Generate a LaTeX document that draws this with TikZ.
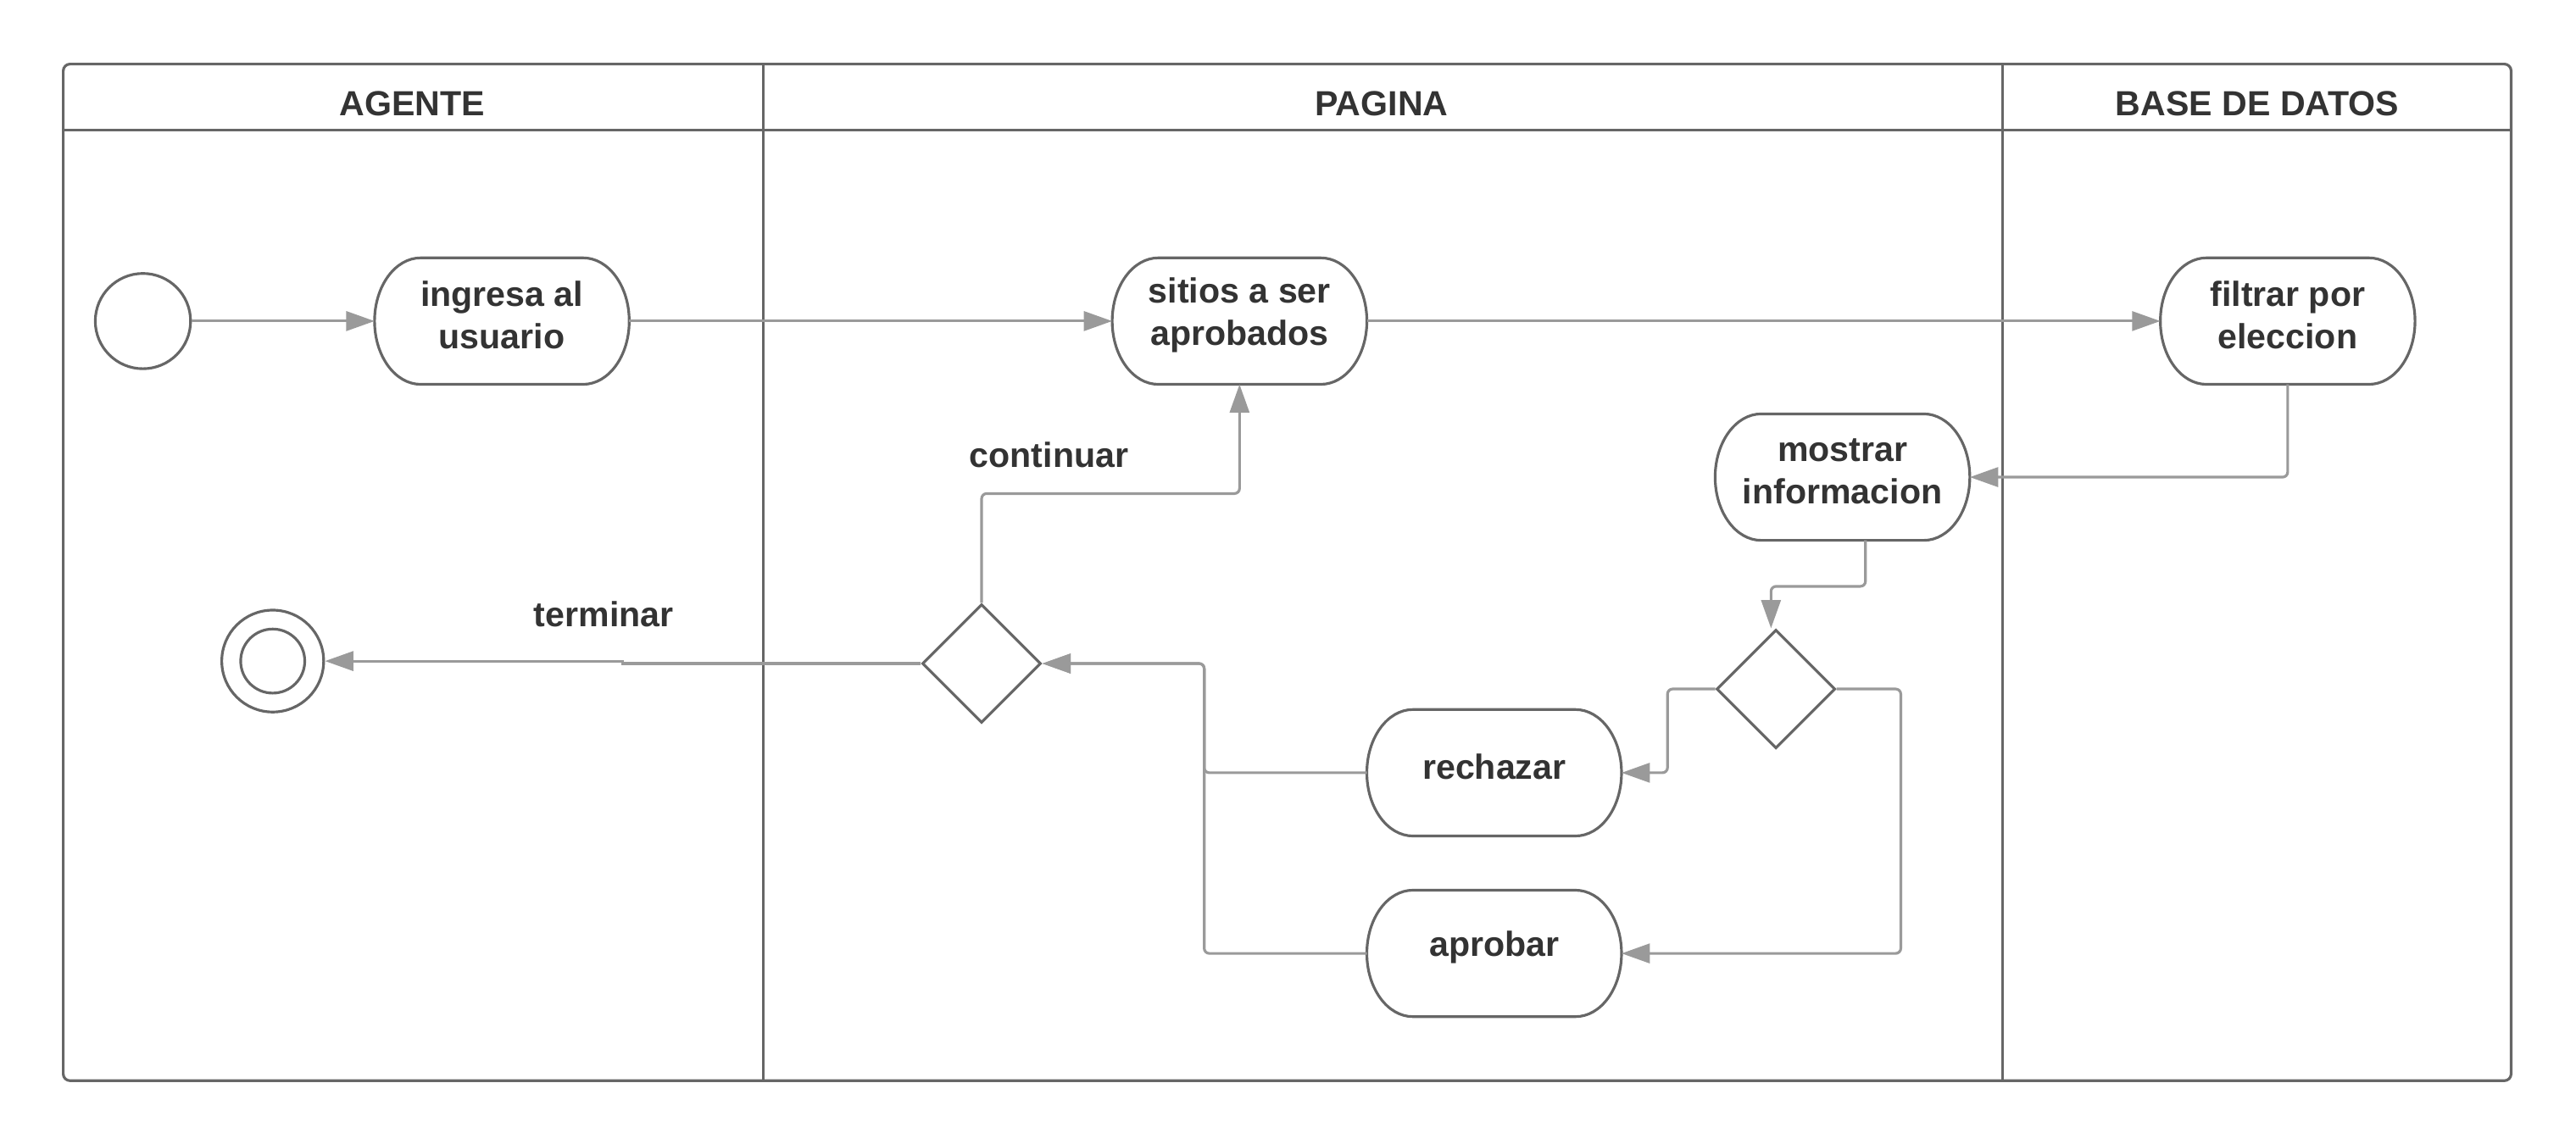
\documentclass[tikz,border=0pt]{standalone}
\usepackage{fontspec}
\setmainfont{Liberation Sans}
\usetikzlibrary{arrows.meta,shapes.geometric}
\definecolor{framec}{HTML}{666666}
\definecolor{textc}{HTML}{333333}
\definecolor{linkc}{HTML}{9A9A9A}
\newcommand{\actshape}[1]{\draw[framec,line width=0.9pt] ([xshift=0.543cm]#1.north west) -- ([xshift=-0.543cm]#1.north east) arc[start angle=90,end angle=-90,x radius=0.543cm,y radius=0.746cm] -- ([xshift=0.543cm]#1.south west) arc[start angle=270,end angle=90,x radius=0.543cm,y radius=0.746cm] -- cycle;}
\begin{document}
\begin{tikzpicture}[x=0.019381cm,y=-0.019381cm,
  lbl/.style={text=textc,font=\fontsize{11.7}{14.2}\selectfont\bfseries,align=center},
  act/.style={minimum width=3.004cm,minimum height=1.492cm,inner sep=0pt,outer sep=0pt,
    label={[lbl,yshift=0.07cm]center:{#1}}},
  dec/.style={diamond,draw=framec,line width=0.9pt,minimum width=1.40cm,minimum height=1.40cm,inner sep=0pt,aspect=1},
  ring/.style={circle,draw=framec,line width=0.9pt,inner sep=0pt},
  lane/.style={draw=framec,line width=0.9pt},
  conn/.style={draw=linkc,line width=0.9pt,rounded corners=0.06cm,-{Triangle[length=9.5pt,width=6.5pt]}}]
\useasboundingbox (0,0) rectangle (1568,696.5);
% swimlanes
\draw[lane,rounded corners=0.08cm] (38.5,39) rectangle (1528.5,658);
\draw[lane] (38.5,79) -- (1528.5,79);
\draw[lane] (464.5,39) -- (464.5,658);
\draw[lane] (1219,39) -- (1219,658);
\node[lbl] (tagente) at (251,63) {AGENTE};
\node[lbl] (tpagina) at (841,63) {PAGINA};
\node[lbl] (tbase) at (1374,63) {BASE DE DATOS};
% nodes
\node[ring,minimum size=1.124cm] (start) at (87,195.5) {};
\node[act={ingresa al\\usuario}] (ingresa) at (305.5,195.5) {};
\node[act={sitios a ser\\aprobados}] (sitios) at (754.5,195.5) {};
\node[act={filtrar por\\eleccion}] (filtrar) at (1392.5,195.5) {};
\node[act={mostrar\\informacion}] (mostrar) at (1121.5,290.5) {};
\node[act={rechazar}] (rechazar) at (909.5,470.5) {};
\node[act={aprobar}] (aprobar) at (909.5,580.5) {};
\actshape{ingresa}
\actshape{sitios}
\actshape{filtrar}
\actshape{mostrar}
\actshape{rechazar}
\actshape{aprobar}
\node[dec] (d1) at (597.5,404) {};
\node[dec] (d2) at (1081,419.5) {};
\node[ring,minimum size=1.202cm] (end) at (166,402.5) {};
\node[ring,minimum size=0.756cm] (endin) at (166,402.5) {};
% labels
\node[lbl] (lcont) at (638.5,277) {continuar};
\node[lbl] (lterm) at (367.5,374) {terminar};
% connectors
\draw[conn] (start) -- (ingresa);
\draw[conn] (ingresa) -- (sitios);
\draw[conn] (sitios) -- (filtrar);
\draw[conn] (filtrar.south) |- (mostrar.east);
\draw[conn] (1135.5,0 |- mostrar.south) -- (1135.5,357) -| (1078,0 |- d2.north);
\draw[conn] (d2.west) -- (d2.west -| 1015,0) |- (rechazar.east);
\draw[conn] (d2.east) -- (d2.east -| 1157,0) |- (aprobar.east);
\draw[conn] (rechazar.west) -- (rechazar.west -| 733,0) |- (d1.east);
\draw[conn] (aprobar.west) -- (aprobar.west -| 733,0) |- (d1.east);
\draw[conn] (d1.north) |- (sitios.south |- 0,300.5) -- (sitios.south);
\draw[conn,rounded corners=0pt] (d1.west) -- (d1.west -| 379,0) -- (379,0 |- end.east) -- (end.east);
\end{tikzpicture}
\end{document}
